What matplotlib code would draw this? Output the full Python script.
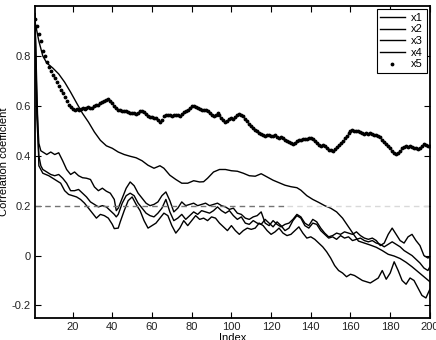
import matplotlib
matplotlib.use("Agg")
import matplotlib.pyplot as plt

plt.rcParams['font.family'] = ['Liberation Sans', 'DejaVu Sans']

# x5: one dot per index 1..200
x5 = [0.95, 0.92, 0.89, 0.86, 0.82, 0.80, 0.775, 0.755, 0.74, 0.725,
      0.71, 0.695, 0.68, 0.665, 0.65, 0.635, 0.62, 0.605, 0.595, 0.588,
      0.585, 0.587, 0.585, 0.588, 0.59, 0.588, 0.592, 0.595, 0.59, 0.593,
      0.598, 0.602, 0.605, 0.61, 0.615, 0.618, 0.624, 0.626, 0.62, 0.61,
      0.598, 0.59, 0.585, 0.582, 0.58, 0.578, 0.58, 0.576, 0.572, 0.573,
      0.57, 0.568, 0.572, 0.578, 0.58, 0.574, 0.566, 0.56, 0.557, 0.555,
      0.553, 0.55, 0.545, 0.535, 0.545, 0.56, 0.565, 0.562, 0.565, 0.56,
      0.565, 0.562, 0.565, 0.56, 0.568, 0.575, 0.58, 0.585, 0.592, 0.598,
      0.6, 0.597, 0.59, 0.588, 0.585, 0.582, 0.585, 0.58, 0.572, 0.565,
      0.56, 0.565, 0.57, 0.562, 0.552, 0.545, 0.535, 0.54, 0.548, 0.552,
      0.548, 0.555, 0.562, 0.568, 0.565, 0.56, 0.548, 0.538, 0.528, 0.518,
      0.512, 0.505, 0.498, 0.49, 0.488, 0.485, 0.48, 0.483, 0.485, 0.48,
      0.478, 0.482, 0.476, 0.472, 0.475, 0.47, 0.465, 0.46, 0.455, 0.45,
      0.448, 0.452, 0.458, 0.462, 0.465, 0.468, 0.466, 0.468, 0.47, 0.472,
      0.468, 0.46, 0.452, 0.445, 0.44, 0.445, 0.438, 0.43, 0.425, 0.422,
      0.42, 0.428, 0.437, 0.445, 0.452, 0.46, 0.47, 0.48, 0.49, 0.498,
      0.502, 0.5, 0.498, 0.5, 0.495, 0.49, 0.488, 0.49, 0.487, 0.49,
      0.487, 0.485, 0.482, 0.48, 0.475, 0.465, 0.455, 0.447, 0.438, 0.43,
      0.42, 0.413, 0.408, 0.41, 0.42, 0.432, 0.435, 0.438, 0.436, 0.438,
      0.435, 0.432, 0.43, 0.428, 0.432, 0.44, 0.447, 0.445, 0.438, 0.44]
idx5 = list(range(1, 201))

# x1: smooth curve
idx1 = [1, 3, 5, 7, 10, 13, 16, 19, 22, 25, 28, 31, 34, 37, 40, 43, 46, 49,
        52, 55, 58, 61, 64, 66, 69, 72, 75, 78, 81, 84, 86, 88, 91, 94, 97,
        100, 103, 106, 109, 112, 115, 118, 121, 124, 127, 130, 133, 135, 138,
        141, 144, 147, 150, 153, 156, 159, 162, 164, 167, 170, 173, 176, 179,
        182, 185, 188, 191, 194, 197, 200]
x1 = [0.94, 0.86, 0.80, 0.772, 0.752, 0.728, 0.695, 0.655, 0.612, 0.57,
      0.535, 0.495, 0.462, 0.44, 0.43, 0.415, 0.405, 0.398, 0.392, 0.38,
      0.362, 0.35, 0.36, 0.35, 0.322, 0.305, 0.29, 0.29, 0.3, 0.295,
      0.296, 0.31, 0.335, 0.345, 0.345, 0.34, 0.338, 0.33, 0.32, 0.318,
      0.328, 0.315, 0.302, 0.292, 0.282, 0.276, 0.272, 0.262, 0.24, 0.225,
      0.213, 0.2, 0.19, 0.175, 0.15, 0.115, 0.08, 0.058, 0.05, 0.042,
      0.033, 0.02, 0.005, -0.002, -0.012, -0.027, -0.045, -0.065, -0.085, -0.105]

# x2, x3: odd indices (plus 2, 42, 200)
idx23 = [1, 2, 3, 4, 5, 7, 9, 11, 13, 15, 17, 19, 21, 23, 25, 27, 29, 31, 33,
         35, 37, 39, 41, 42, 43, 45, 47, 49, 51, 53, 55, 57, 59, 61, 63, 65,
         67, 69, 71, 73, 75, 77, 79, 81, 83, 85, 87, 89, 91, 93, 95, 97, 99,
         101, 103, 105, 107, 109, 111, 113, 115, 117, 119, 121, 123, 125, 127,
         129, 131, 133, 135, 137, 139, 141, 143, 145, 147, 149, 151, 153, 155,
         157, 159, 161, 163, 165, 167, 169, 171, 173, 175, 177, 179, 181, 183,
         185, 187, 189, 191, 193, 195, 197, 199, 200]
x2 = [0.97, 0.6, 0.45, 0.42, 0.415, 0.405, 0.415, 0.405, 0.412, 0.38,
      0.345, 0.325, 0.335, 0.32, 0.312, 0.31, 0.305, 0.275, 0.26, 0.27,
      0.258, 0.25, 0.225, 0.18, 0.19, 0.23, 0.27, 0.295, 0.28, 0.25,
      0.23, 0.21, 0.2, 0.205, 0.215, 0.24, 0.255, 0.22, 0.175, 0.19,
      0.215, 0.2, 0.205, 0.21, 0.2, 0.205, 0.21, 0.2, 0.205, 0.21,
      0.2, 0.195, 0.185, 0.19, 0.17, 0.165, 0.15, 0.145, 0.155, 0.16,
      0.175, 0.13, 0.12, 0.14, 0.125, 0.115, 0.125, 0.13, 0.145, 0.165,
      0.155, 0.13, 0.12, 0.145, 0.135, 0.11, 0.09, 0.075, 0.08, 0.09,
      0.085, 0.095, 0.09, 0.085, 0.095, 0.08, 0.07, 0.065, 0.07, 0.06,
      0.04, 0.05, 0.085, 0.11, 0.085, 0.06, 0.05, 0.075, 0.085, 0.06,
      0.04, 0.0, -0.01, -0.005]
x3 = [0.97, 0.55, 0.4, 0.36, 0.345, 0.335, 0.325, 0.32, 0.325, 0.31,
      0.29, 0.26, 0.26, 0.265, 0.25, 0.235, 0.215, 0.205, 0.195, 0.2,
      0.195, 0.18, 0.165, 0.155, 0.165, 0.21, 0.24, 0.25, 0.24, 0.21,
      0.19, 0.17, 0.16, 0.155, 0.17, 0.19, 0.225, 0.175, 0.14, 0.15,
      0.165, 0.145, 0.16, 0.175, 0.165, 0.18, 0.175, 0.17, 0.18, 0.195,
      0.18, 0.17, 0.18, 0.16, 0.145, 0.155, 0.13, 0.125, 0.14, 0.13,
      0.125, 0.145, 0.13, 0.115, 0.135, 0.12, 0.1, 0.11, 0.14, 0.16,
      0.15, 0.12, 0.11, 0.13, 0.125, 0.1, 0.085, 0.07, 0.075, 0.065,
      0.08, 0.07, 0.075, 0.06, 0.065, 0.07, 0.06, 0.055, 0.06, 0.05,
      0.045, 0.035, 0.045, 0.055, 0.045, 0.035, 0.02, 0.01, 0.0, -0.015,
      -0.03, -0.05, -0.06, -0.045]

# x4: even indices
idx4 = [1, 3, 5, 8, 10, 12, 14, 16, 18, 20, 22, 24, 26, 28, 30, 32, 34, 36,
        38, 40, 41, 43, 44, 46, 48, 50, 52, 54, 56, 58, 60, 62, 64, 66, 68,
        70, 72, 74, 76, 78, 80, 82, 84, 86, 88, 90, 92, 94, 96, 98, 100, 102,
        104, 106, 108, 110, 112, 114, 116, 118, 120, 122, 124, 126, 128, 130,
        132, 134, 136, 138, 140, 142, 144, 146, 148, 150, 152, 154, 156, 158,
        160, 162, 164, 166, 168, 170, 172, 174, 176, 178, 180, 182, 184, 186,
        188, 190, 192, 194, 196, 198, 200]
x4 = [0.97, 0.36, 0.33, 0.32, 0.31, 0.30, 0.29, 0.26, 0.245, 0.24,
      0.235, 0.225, 0.21, 0.19, 0.17, 0.15, 0.165, 0.16, 0.15, 0.125,
      0.108, 0.11, 0.135, 0.18, 0.22, 0.235, 0.205, 0.18, 0.14, 0.11,
      0.12, 0.13, 0.15, 0.17, 0.16, 0.12, 0.09, 0.11, 0.14, 0.12,
      0.14, 0.16, 0.145, 0.15, 0.14, 0.155, 0.15, 0.13, 0.115, 0.1,
      0.12, 0.1, 0.085, 0.1, 0.11, 0.105, 0.11, 0.13, 0.12, 0.1,
      0.085, 0.095, 0.11, 0.09, 0.08, 0.085, 0.1, 0.115, 0.09, 0.07,
      0.075, 0.065, 0.05, 0.035, 0.015, -0.01, -0.04, -0.06, -0.07, -0.085,
      -0.075, -0.08, -0.09, -0.1, -0.105, -0.11, -0.1, -0.09, -0.06, -0.095,
      -0.07, -0.025, -0.06, -0.1, -0.115, -0.09, -0.1, -0.13, -0.16, -0.17,
      -0.135]

xticks = [20, 40, 60, 80, 100, 120, 140, 160, 180, 200]
yticks = [-0.2, 0, 0.2, 0.4, 0.6, 0.8]
ytick_labels = ['-0.2', '0', '0.2', '0.4', '0.6', '0.8']
threshold = 0.2

fig = plt.figure(figsize=(4.36, 3.4), dpi=100)
ax = fig.add_axes([0.080, 0.065, 0.906, 0.917])

ax.plot(idx1, x1, color='black', lw=1.0, label='x1')
ax.plot(idx23, x2, color='black', lw=1.0, label='x2')
ax.plot(idx23, x3, color='black', lw=1.0, label='x3')
ax.plot(idx4, x4, color='black', lw=1.0, label='x4')
ax.plot(idx5, x5, '.', color='black', ms=3.5, label='x5')

# dashed reference line (fades towards the right)
ax.plot([1, 128], [threshold, threshold], ls=(0, (4, 3)), color='0.45', lw=1.0)
ax.plot([128, 200], [threshold, threshold], ls=(0, (4, 3)), color='0.85', lw=1.0)

ax.set_xlim(1, 200)
ax.set_ylim(-0.25, 1.0)
ax.set_xticks(xticks)
ax.set_yticks(yticks)
ax.set_yticklabels(ytick_labels)
ax.tick_params(direction='in', top=True, right=True, labelsize=8,
               length=4, width=0.8, labelcolor='#222222', pad=3)
for s in ax.spines.values():
    s.set_linewidth(1.3)

ax.set_xlabel('Index', fontsize=8, labelpad=1)
ax.set_ylabel('Correlation coefficient', fontsize=8, labelpad=2)

leg = ax.legend(loc='upper right', fontsize=8, fancybox=False, framealpha=1,
                edgecolor='black', handlelength=2.2, borderpad=0.3,
                labelspacing=0.15, handletextpad=0.6, borderaxespad=0.3)
leg.get_frame().set_linewidth(0.8)

fig.savefig('out.png', dpi=100)
